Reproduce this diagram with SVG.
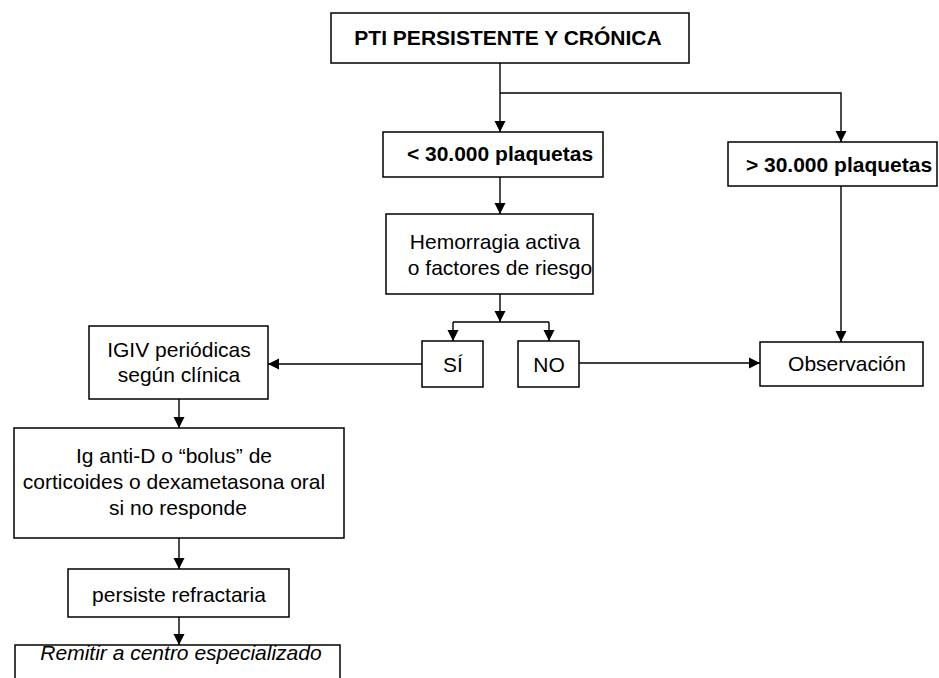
<svg xmlns="http://www.w3.org/2000/svg" width="939" height="678" viewBox="0 0 939 678">
<style>
.box{fill:#fff;stroke:#000;stroke-width:1.5}
.t{font-family:"Liberation Sans",Arial,Helvetica,sans-serif;font-size:21px;fill:#000;text-anchor:middle}
.b{font-weight:bold}
.i{font-style:italic}
.c{fill:none;stroke:#000;stroke-width:1.4}
</style>
<defs>
<marker id="ah" markerUnits="userSpaceOnUse" markerWidth="12" markerHeight="12" viewBox="0 0 12 12" refX="11" refY="6" orient="auto">
<path d="M0,0.5 L11,6 L0,11.5 Z" fill="#000"/>
</marker>
</defs>
<rect width="939" height="678" fill="#fff"/>
<g id="connectors">
<line class="c" x1="500" y1="63" x2="500" y2="132" marker-end="url(#ah)"/>
<polyline class="c" points="500,93 841,93 841,142" marker-end="url(#ah)"/>
<line class="c" x1="500" y1="177" x2="500" y2="214" marker-end="url(#ah)"/>
<line class="c" x1="500" y1="294" x2="500" y2="322" marker-end="url(#ah)"/>
<line class="c" x1="453" y1="322" x2="549" y2="322"/>
<line class="c" x1="453" y1="322" x2="453" y2="341" marker-end="url(#ah)"/>
<line class="c" x1="549" y1="322" x2="549" y2="341" marker-end="url(#ah)"/>
<line class="c" x1="422" y1="364" x2="268" y2="364" marker-end="url(#ah)"/>
<line class="c" x1="579" y1="363" x2="760" y2="363" marker-end="url(#ah)"/>
<line class="c" x1="841" y1="186" x2="841" y2="342" marker-end="url(#ah)"/>
<line class="c" x1="179" y1="399" x2="179" y2="428" marker-end="url(#ah)"/>
<line class="c" x1="179" y1="538" x2="179" y2="569" marker-end="url(#ah)"/>
<line class="c" x1="179" y1="617" x2="179" y2="645" marker-end="url(#ah)"/>
</g>
<g id="n-top">
<rect class="box" x="331" y="13" width="358" height="50"/>
<text class="t b" x="508" y="45">PTI PERSISTENTE Y CRÓNICA</text>
</g>
<g id="n-lt30">
<rect class="box" x="383" y="132" width="220" height="45"/>
<text class="t b" x="500" y="161">&lt; 30.000 plaquetas</text>
</g>
<g id="n-gt30">
<rect class="box" x="728" y="142" width="209" height="44"/>
<text class="t b" x="839" y="172">&gt; 30.000 plaquetas</text>
</g>
<g id="n-hemo">
<rect class="box" x="386" y="214" width="207" height="80"/>
<text class="t" x="495" y="249">Hemorragia activa</text>
<text class="t" x="500" y="275">o factores de riesgo</text>
</g>
<g id="n-si">
<rect class="box" x="422" y="341" width="61" height="46"/>
<text class="t" x="453" y="372">SÍ</text>
</g>
<g id="n-no">
<rect class="box" x="518" y="341" width="61" height="46"/>
<text class="t" x="549" y="372">NO</text>
</g>
<g id="n-obs">
<rect class="box" x="760" y="342" width="163" height="44"/>
<text class="t" x="847" y="371">Observación</text>
</g>
<g id="n-igiv">
<rect class="box" x="89" y="326" width="179" height="73"/>
<text class="t" x="179" y="357">IGIV periódicas</text>
<text class="t" x="179" y="382">según clínica</text>
</g>
<g id="n-antid">
<rect class="box" x="14" y="428" width="330" height="110"/>
<text class="t" x="174" y="463">Ig anti-D o “bolus” de</text>
<text class="t" x="174" y="489">corticoides o dexametasona oral</text>
<text class="t" x="178" y="515">si no responde</text>
</g>
<g id="n-persiste">
<rect class="box" x="68" y="569" width="221" height="48"/>
<text class="t" x="179" y="602">persiste refractaria</text>
</g>
<g id="n-remitir">
<rect class="box" x="15" y="645" width="325" height="40"/>
<text class="t i" x="181" y="660">Remitir a centro especializado</text>
</g>
</svg>
